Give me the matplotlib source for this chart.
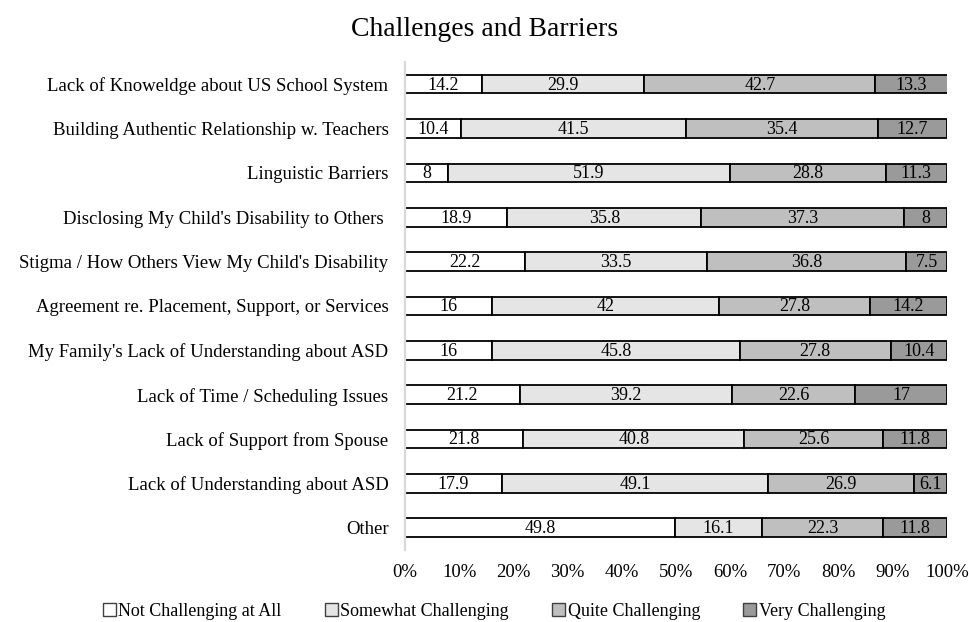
import matplotlib
matplotlib.use("Agg")
import matplotlib.pyplot as plt
import numpy as np

plt.rcParams['font.family'] = ['Liberation Serif', 'DejaVu Serif']

categories = [
    "Lack of Knoweldge about US School System",
    "Building Authentic Relationship w. Teachers",
    "Linguistic Barriers",
    "Disclosing My Child's Disability to Others ",
    "Stigma / How Others View My Child's Disability",
    "Agreement re. Placement, Support, or Services",
    "My Family's Lack of Understanding about ASD",
    "Lack of Time / Scheduling Issues",
    "Lack of Support from Spouse",
    "Lack of Understanding about ASD",
    "Other",
]
not_challenging = [14.2, 10.4, 8, 18.9, 22.2, 16, 16, 21.2, 21.8, 17.9, 49.8]
somewhat = [29.9, 41.5, 51.9, 35.8, 33.5, 42, 45.8, 39.2, 40.8, 49.1, 16.1]
quite = [42.7, 35.4, 28.8, 37.3, 36.8, 27.8, 27.8, 22.6, 25.6, 26.9, 22.3]
very = [13.3, 12.7, 11.3, 8, 7.5, 14.2, 10.4, 17, 11.8, 6.1, 11.8]
series_names = ["Not Challenging at All", "Somewhat Challenging", "Quite Challenging", "Very Challenging"]
colors = ["#ffffff", "#e5e5e5", "#bfbfbf", "#9a9a9a"]
tick_vals = [0, 10, 20, 30, 40, 50, 60, 70, 80, 90, 100]
tick_labels = ["0%", "10%", "20%", "30%", "40%", "50%", "60%", "70%", "80%", "90%", "100%"]

FS = 13
FS_AX = 13.5
fig = plt.figure(figsize=(9.69, 6.22), dpi=100)
ax = fig.add_axes([0.418, 0.1158, 0.5593, 0.7846])

y = np.arange(len(categories))
left = np.zeros(len(categories))
for name, vals, c in zip(series_names, [not_challenging, somewhat, quite, very], colors):
    vals = np.array(vals, dtype=float)
    ax.barh(y, vals, left=left, height=0.42, color=c, edgecolor="black",
            linewidth=1.3, label=name)
    for yi, l, v in zip(y, left, vals):
        ax.text(l + v / 2, yi + 0.02, f"{v:g}", ha="center", va="center", fontsize=FS)
    left += vals

ax.set_ylim(len(categories) - 0.5, -0.5)
ax.set_xlim(0, 100)
ax.set_yticks(y)
ax.set_yticklabels(categories, fontsize=FS_AX)
ax.set_xticks(tick_vals)
ax.set_xticklabels(tick_labels, fontsize=FS_AX)
ax.tick_params(axis="y", length=0, pad=12)
ax.tick_params(axis="x", length=0, pad=10)
for s in ["top", "right", "bottom"]:
    ax.spines[s].set_visible(False)
ax.spines["left"].set_color("#d9d9d9")
ax.spines["left"].set_linewidth(1.6)

fig.suptitle("Challenges and Barriers", fontsize=20, y=0.953, va="center")

handles, labels = ax.get_legend_handles_labels()
leg = fig.legend(handles, labels, loc="center", bbox_to_anchor=(0.51, 0.017), ncol=4,
                 frameon=False, fontsize=FS, handlelength=0.7, handleheight=0.7,
                 handletextpad=0.15, columnspacing=2.4, borderpad=0.1)
for h in leg.legend_handles:
    h.set_edgecolor("#404040")
    h.set_linewidth(1.0)

fig.savefig("out.png", dpi=100)
